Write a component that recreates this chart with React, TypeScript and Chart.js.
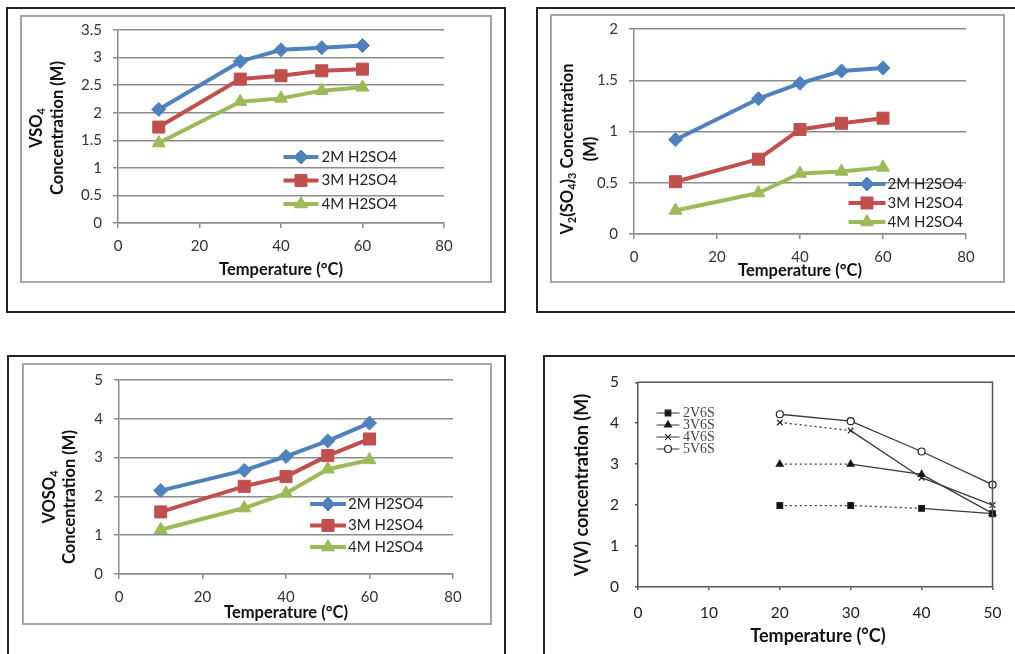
import React, { useEffect, useRef } from "react";
import { Chart, registerables } from "chart.js";
import { drawPoint } from "chart.js/helpers";

Chart.register(...registerables);

// ---------- data ----------
const temps = [10, 30, 40, 50, 60];
const acidLabels = ["2M H2SO4", "3M H2SO4", "4M H2SO4"];

const vso4_2M = [2.06, 2.93, 3.14, 3.18, 3.22];
const vso4_3M = [1.74, 2.61, 2.67, 2.76, 2.79];
const vso4_4M = [1.45, 2.2, 2.26, 2.4, 2.46];

const v2so43_2M = [0.92, 1.32, 1.47, 1.59, 1.62];
const v2so43_3M = [0.51, 0.73, 1.02, 1.08, 1.13];
const v2so43_4M = [0.23, 0.4, 0.59, 0.61, 0.65];

const voso4_2M = [2.15, 2.67, 3.03, 3.43, 3.89];
const voso4_3M = [1.6, 2.26, 2.51, 3.05, 3.48];
const voso4_4M = [1.14, 1.7, 2.08, 2.7, 2.94];

const vvTemps = [20, 30, 40, 50];
const vvLabels = ["2V6S", "3V6S", "4V6S", "5V6S"];
const vv_2V6S = [1.99, 1.99, 1.92, 1.79];
const vv_3V6S = [3.0, 3.0, 2.75, 1.8];
const vv_4V6S = [4.02, 3.82, 2.67, 2.0];
const vv_5V6S = [4.22, 4.05, 3.31, 2.5];
const vvDottedSegments = [2, 1, 1, 0];

// ---------- styles ----------
const FONT = "Lato, 'Open Sans', sans-serif";
const SERIF = "'Liberation Serif', 'Times New Roman', serif";
const excelColors = ["#4F81BD", "#C0504D", "#9BBB59"];
const excelMarkers = ["rectRot", "rect", "triangle"];
const excelRadius = [7, 8.5, 7.5];
const GRID = "#8c8c8c";
const TICK_SIZE = 15;
const TITLE_SIZE = 16.5;

type Seg = { t: string; sub?: boolean };
type TitleItem = {
  x: number;
  y: number;
  rotate?: boolean;
  lines: Seg[][];
  gap?: number;
  size: number;
  weight?: string;
  family?: string;
  color?: string;
};

function drawRichLine(ctx: CanvasRenderingContext2D, segs: Seg[], cx: number, cy: number, size: number, weight: string, family: string) {
  const subSize = Math.round(size * 0.68);
  const mainFont = `${weight} ${size}px ${family}`;
  const subFont = `${weight} ${subSize}px ${family}`;
  let total = 0;
  for (const s of segs) {
    ctx.font = s.sub ? subFont : mainFont;
    total += ctx.measureText(s.t).width;
  }
  let x = cx - total / 2;
  ctx.textAlign = "left";
  ctx.textBaseline = "middle";
  for (const s of segs) {
    ctx.font = s.sub ? subFont : mainFont;
    ctx.fillText(s.t, x, cy + (s.sub ? size * 0.3 : 0));
    x += ctx.measureText(s.t).width;
  }
}

function titlePlugin(items: TitleItem[]) {
  return {
    id: "richTitles",
    afterDraw(chart: any) {
      const ctx: CanvasRenderingContext2D = chart.ctx;
      for (const it of items) {
        ctx.save();
        ctx.fillStyle = it.color ?? "#111";
        ctx.translate(it.x, it.y);
        if (it.rotate) ctx.rotate(-Math.PI / 2);
        const n = it.lines.length;
        const gap = it.gap ?? 0;
        it.lines.forEach((ln, i) => {
          drawRichLine(ctx, ln, 0, (i - (n - 1) / 2) * gap, it.size, it.weight ?? "bold", it.family ?? FONT);
        });
        ctx.restore();
      }
    },
  };
}

type LegendCfg = { x: number; y: number; gap: number; lineLen: number; textGap: number; font: string; color: string; lineWidth?: number; lineColor?: string };

function legendPlugin(cfg: LegendCfg) {
  return {
    id: "boxLegend",
    afterDatasetsDraw(chart: any) {
      const ctx: CanvasRenderingContext2D = chart.ctx;
      chart.data.datasets.forEach((ds: any, i: number) => {
        const y = cfg.y + i * cfg.gap;
        ctx.save();
        ctx.strokeStyle = cfg.lineColor ?? ds.borderColor;
        ctx.lineWidth = cfg.lineWidth ?? ds.borderWidth;
        ctx.setLineDash([]);
        ctx.beginPath();
        ctx.moveTo(cfg.x - cfg.lineLen / 2, y);
        ctx.lineTo(cfg.x + cfg.lineLen / 2, y);
        ctx.stroke();
        ctx.fillStyle = ds.pointBackgroundColor ?? ds.borderColor;
        ctx.strokeStyle = ds.pointBorderColor ?? ds.borderColor;
        const bw = ds.pointBorderWidth ?? 1;
        ctx.lineWidth = bw;
        drawPoint(ctx, { pointStyle: ds.pointStyle, radius: ds.pointRadius, borderWidth: bw, rotation: 0 } as any, cfg.x, y);
        ctx.fillStyle = cfg.color;
        ctx.font = cfg.font;
        ctx.textAlign = "left";
        ctx.textBaseline = "middle";
        ctx.fillText(ds.label, cfg.x + cfg.lineLen / 2 + cfg.textGap, y);
        ctx.restore();
      });
    },
  };
}

const boxPlugin = {
  id: "plotBox",
  afterDraw(chart: any) {
    const { ctx, chartArea: a } = chart;
    ctx.save();
    ctx.strokeStyle = "#555";
    ctx.lineWidth = 1.5;
    ctx.beginPath();
    ctx.moveTo(a.left, a.top);
    ctx.lineTo(a.right, a.top);
    ctx.lineTo(a.right, a.bottom);
    ctx.stroke();
    ctx.restore();
  },
};

type ExcelCfg = {
  series: number[][];
  yMax: number;
  yStep: number;
  yW: number;
  xH: number;
  padTop: number;
  padRight: number;
  legend: LegendCfg;
  titles: TitleItem[];
};

const plainNum = (v: any) => `${Math.round(Number(v) * 100) / 100}`;

function excelConfig(c: ExcelCfg): any {
  return {
    type: "line",
    data: {
      datasets: c.series.map((vals, i) => ({
        label: acidLabels[i],
        data: temps.map((x, j) => ({ x, y: vals[j] })),
        borderColor: excelColors[i],
        backgroundColor: excelColors[i],
        pointBackgroundColor: excelColors[i],
        pointBorderColor: excelColors[i],
        borderWidth: 4,
        pointStyle: excelMarkers[i],
        pointRadius: excelRadius[i],
        pointBorderWidth: 1,
        borderJoinStyle: "round",
        borderCapStyle: "round",
        tension: 0,
        clip: false,
      })),
    },
    options: {
      responsive: false,
      animation: false,
      events: [],
      layout: { padding: { left: 0, top: c.padTop, right: c.padRight, bottom: 0 } },
      plugins: { legend: { display: false }, tooltip: { enabled: false } },
      scales: {
        x: {
          type: "linear",
          min: 0,
          max: 80,
          ticks: { stepSize: 20, padding: 9, color: "#333", font: { family: FONT, size: TICK_SIZE }, callback: plainNum },
          grid: { drawOnChartArea: false, drawTicks: true, tickLength: 5, color: GRID, lineWidth: 1.5 },
          border: { display: true, color: GRID, width: 1.5 },
          afterFit: (s: any) => {
            s.height = c.xH;
          },
        },
        y: {
          min: 0,
          max: c.yMax,
          ticks: { stepSize: c.yStep, padding: 11, color: "#333", font: { family: FONT, size: TICK_SIZE }, callback: plainNum },
          grid: { drawTicks: true, tickLength: 5, color: GRID, lineWidth: 1.5 },
          border: { display: true, color: GRID, width: 1.5 },
          afterFit: (s: any) => {
            s.width = c.yW;
          },
        },
      },
    },
    plugins: [legendPlugin(c.legend), titlePlugin(c.titles)],
  };
}

const legendFont = `15px ${FONT}`;

function config1() {
  return excelConfig({
    series: [vso4_2M, vso4_3M, vso4_4M],
    yMax: 3.5,
    yStep: 0.5,
    yW: 110,
    xH: 88,
    padTop: 21,
    padRight: 60,
    legend: { x: 293, y: 148, gap: 23.5, lineLen: 35, textGap: 3, font: legendFont, color: "#222" },
    titles: [
      { x: 39.5, y: 119, rotate: true, gap: 21, size: TITLE_SIZE, lines: [[{ t: "VSO" }, { t: "4", sub: true }], [{ t: "Concentration (M)" }]] },
      { x: 273, y: 261, size: TITLE_SIZE, lines: [[{ t: "Temperature (°C)" }]] },
    ],
  });
}

function config2() {
  return excelConfig({
    series: [v2so43_2M, v2so43_3M, v2so43_4M],
    yMax: 2,
    yStep: 0.5,
    yW: 96,
    xH: 77,
    padTop: 16,
    padRight: 49,
    legend: { x: 329, y: 175, gap: 19, lineLen: 37, textGap: 2, font: legendFont, color: "#222" },
    titles: [
      {
        x: 41.5,
        y: 140,
        rotate: true,
        gap: 23,
        size: TITLE_SIZE,
        lines: [
          [{ t: "V" }, { t: "2", sub: true }, { t: "(SO" }, { t: "4", sub: true }, { t: ")" }, { t: "3", sub: true }, { t: " Concentration" }],
          [{ t: "(M)" }],
        ],
      },
      { x: 262, y: 262, size: TITLE_SIZE, lines: [[{ t: "Temperature (°C)" }]] },
    ],
  });
}

function config3() {
  return excelConfig({
    series: [voso4_2M, voso4_3M, voso4_4M],
    yMax: 5,
    yStep: 1,
    yW: 110,
    xH: 80,
    padTop: 23,
    padRight: 51,
    legend: { x: 319, y: 147, gap: 21.5, lineLen: 36, textGap: 2, font: legendFont, color: "#222" },
    titles: [
      { x: 51, y: 140, rotate: true, gap: 20, size: TITLE_SIZE, lines: [[{ t: "VOSO" }, { t: "4", sub: true }], [{ t: "Concentration (M)" }]] },
      { x: 277, y: 256, size: TITLE_SIZE, lines: [[{ t: "Temperature (°C)" }]] },
    ],
  });
}

const vvSeries = [vv_2V6S, vv_3V6S, vv_4V6S, vv_5V6S];
const vvMarkers = ["rect", "triangle", "crossRot", "circle"];
const vvRadius = [4, 4, 4, 3.5];
const vvFill = ["#111", "#111", "#111", "#ffffff"];

function config4(): any {
  return {
    type: "line",
    data: {
      datasets: vvSeries.map((vals, i) => ({
        label: vvLabels[i],
        data: vvTemps.map((x, j) => ({ x, y: vals[j] })),
        borderColor: "#3a3a3a",
        backgroundColor: vvFill[i],
        pointBackgroundColor: vvFill[i],
        pointBorderColor: "#222",
        pointBorderWidth: 1.2,
        borderWidth: 1.3,
        pointStyle: vvMarkers[i],
        pointRadius: vvRadius[i],
        tension: 0,
        clip: false,
        segment: {
          borderDash: (ctx: any) => (ctx.p1DataIndex <= vvDottedSegments[i] ? [2, 3] : undefined),
        },
      })),
    },
    options: {
      responsive: false,
      animation: false,
      events: [],
      layout: { padding: { left: 0, top: 17, right: 16, bottom: 0 } },
      plugins: { legend: { display: false }, tooltip: { enabled: false } },
      scales: {
        x: {
          type: "linear",
          min: 0,
          max: 50,
          ticks: { stepSize: 10, padding: 13.5, color: "#222", font: { family: FONT, size: 15.5 } },
          grid: { drawOnChartArea: false, drawTicks: true, tickLength: 3, color: "#555", lineWidth: 1.5 },
          border: { display: true, color: "#555", width: 1.5 },
          afterFit: (s: any) => {
            s.height = 67;
          },
        },
        y: {
          min: 0,
          max: 5,
          ticks: { stepSize: 1, padding: 16, color: "#222", font: { family: FONT, size: 15.5 } },
          grid: { drawOnChartArea: false, drawTicks: true, tickLength: 3, color: "#555", lineWidth: 1.5 },
          border: { display: true, color: "#555", width: 1.5 },
          afterFit: (s: any) => {
            s.width = 93;
          },
        },
      },
    },
    plugins: [
      boxPlugin,
      legendPlugin({ x: 123, y: 56, gap: 12, lineLen: 23, textGap: 3.5, font: `14px ${SERIF}`, color: "#444", lineWidth: 1.2, lineColor: "#555" }),
      titlePlugin([
        { x: 37, y: 128, rotate: true, size: 18, lines: [[{ t: "V(V) concentration (M)" }]] },
        { x: 273, y: 279, size: 18, lines: [[{ t: "Temperature (°C)" }]] },
      ]),
    ],
  };
}

function ChartCanvas(props: { left: number; top: number; width: number; height: number; make: () => any }) {
  const ref = useRef<HTMLCanvasElement>(null);
  useEffect(() => {
    const chart = new Chart(ref.current as HTMLCanvasElement, props.make());
    return () => chart.destroy();
  }, []);
  return (
    <canvas
      ref={ref}
      width={props.width}
      height={props.height}
      style={{ position: "absolute", left: props.left, top: props.top, width: props.width, height: props.height }}
    />
  );
}

function Frame(p: { left: number; top: number; width: number; height: number; color: string; w: number }) {
  return (
    <div
      style={{
        position: "absolute",
        left: p.left,
        top: p.top,
        width: p.width,
        height: p.height,
        border: `${p.w}px solid ${p.color}`,
        boxSizing: "border-box",
      }}
    />
  );
}

export default function App() {
  return (
    <div style={{ position: "fixed", left: 0, top: 0, width: 1015, height: 654, overflow: "hidden", background: "#fff" }}>
      <Frame left={6} top={7} width={500} height={306} color="#222" w={2} />
      <Frame left={20} top={15} width={472} height={268} color="#a6a6a6" w={2} />
      <Frame left={536} top={7} width={520} height={306} color="#222" w={2} />
      <Frame left={550} top={14} width={455} height={269} color="#a6a6a6" w={2} />
      <Frame left={7} top={355} width={499} height={330} color="#222" w={2} />
      <Frame left={22} top={363} width={470} height={262} color="#a6a6a6" w={2} />
      <Frame left={543} top={355} width={520} height={330} color="#222" w={2} />
      <ChartCanvas left={8} top={9} width={496} height={302} make={config1} />
      <ChartCanvas left={538} top={9} width={477} height={302} make={config2} />
      <ChartCanvas left={9} top={357} width={495} height={297} make={config3} />
      <ChartCanvas left={545} top={357} width={470} height={297} make={config4} />
    </div>
  );
}
